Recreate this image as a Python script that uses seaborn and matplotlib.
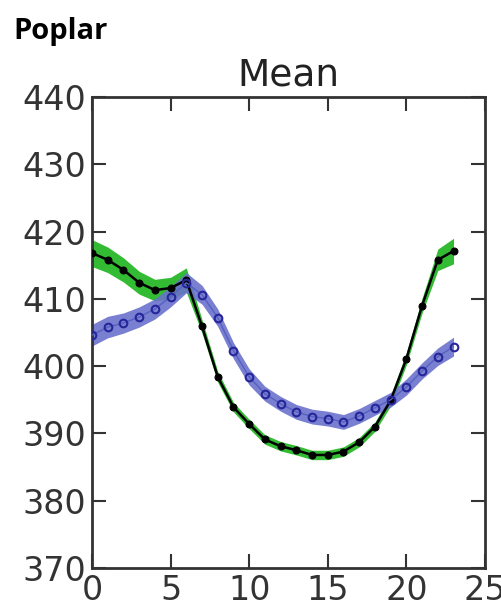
import numpy as np
import pandas as pd
import matplotlib
matplotlib.use("Agg")
import matplotlib.pyplot as plt
import seaborn as sns

###############################################################################
# Data
###############################################################################
hours = list(range(24))

green_mean = [416.8, 415.8, 414.3, 412.4, 411.3, 411.6, 412.8, 405.9,
              398.4, 393.9, 391.4, 389.1, 388.1, 387.5, 386.8, 386.8,
              387.3, 388.7, 391.0, 394.9, 401.1, 409.0, 415.8, 417.1]
green_err = [2.0, 1.9, 1.8, 1.7, 1.6, 1.6, 1.8, 1.0,
             0.8, 0.7, 0.7, 0.7, 0.7, 0.7, 0.7, 0.7,
             0.7, 0.7, 0.7, 0.8, 0.9, 1.1, 1.6, 1.9]

blue_mean = [404.6, 405.8, 406.4, 407.3, 408.5, 410.3, 412.4, 410.6,
             407.2, 402.3, 398.4, 395.9, 394.4, 393.2, 392.5, 392.2,
             391.7, 392.6, 393.8, 395.0, 396.9, 399.3, 401.4, 402.9]
blue_err = [1.6, 1.6, 1.5, 1.5, 1.5, 1.5, 1.5, 1.4,
            1.3, 1.2, 1.2, 1.1, 1.1, 1.1, 1.1, 1.1,
            1.1, 1.1, 1.1, 1.1, 1.2, 1.2, 1.3, 1.4]

y_ticks = [370, 380, 390, 400, 410, 420, 430, 440]
x_ticks = [0, 5, 10, 15, 20, 25]

df = pd.DataFrame({'hour': hours,
                   'green': green_mean, 'green_err': green_err,
                   'blue': blue_mean, 'blue_err': blue_err})

###############################################################################
# Plot
###############################################################################
sns.set_style("ticks")
plt.rcParams['font.family'] = ['DejaVu Sans']

fig = plt.figure(figsize=(5.01, 6.06), dpi=100)
ax = fig.add_axes([0.1836, 0.0627, 0.968 - 0.1836, 0.840 - 0.0627])

# shaded bands
ax.fill_between(df['hour'], df['green'] - df['green_err'],
                df['green'] + df['green_err'],
                color='#33bb33', linewidth=0, zorder=1)
ax.fill_between(df['hour'], df['blue'] - df['blue_err'],
                df['blue'] + df['blue_err'],
                color='#6a72cc', linewidth=0, alpha=0.9, zorder=2)

# mean lines
sns.lineplot(data=df, x='hour', y='green', ax=ax, color='black',
             marker='o', markersize=5, linewidth=1.8,
             markeredgecolor='black', zorder=3)
sns.lineplot(data=df, x='hour', y='blue', ax=ax, color='#5560c0',
             marker='o', markersize=5.5, linewidth=1.0,
             markerfacecolor='none', markeredgecolor='#26269a',
             markeredgewidth=1.5, zorder=4)

ax.set_xlim(0, 25)
ax.set_ylim(370, 440)
ax.set_xticks(x_ticks)
ax.set_yticks(y_ticks)
ax.set_xlabel('')
ax.set_ylabel('')
ax.set_title('Mean', fontsize=27, pad=8, color='#222222')

ax.tick_params(direction='in', length=10, width=1.5, labelsize=24,
               top=True, right=True, colors='#333333', labelcolor='#333333',
               pad=4)
for sp in ax.spines.values():
    sp.set_visible(True)
    sp.set_linewidth(2)
    sp.set_color('#333333')

fig.text(0.026, 0.948, 'Poplar', fontsize=21, fontweight='bold',
         color='black', family=['Open Sans', 'DejaVu Sans'],
         ha='left', va='center')

fig.savefig('out.png', dpi=100)
